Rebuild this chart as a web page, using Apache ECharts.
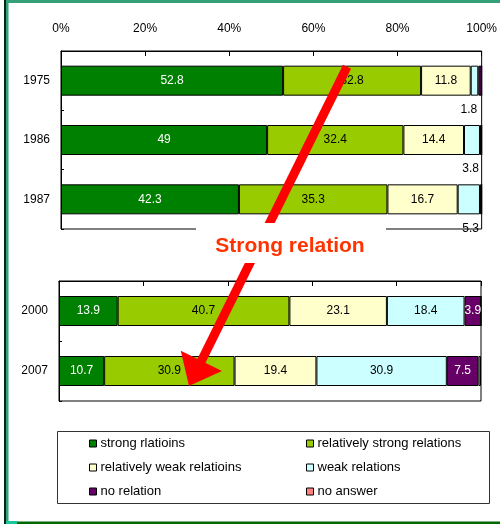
<!DOCTYPE html>
<html><head><meta charset="utf-8">
<script src="https://cdn.jsdelivr.net/npm/echarts@6/dist/echarts.min.js"></script>
<style>html,body{margin:0;padding:0;background:#fff}#c{width:500px;height:524px}</style>
</head><body><div id="c"></div>
<script>
// ---- data ----
const seriesNames = ['strong rlatioins','relatively strong relations','relatively weak relatioins','weak relations','no relation','no answer'];
const topYears = ['1975','1986','1987'];
const bottomYears = ['2000','2007'];
const tickLabels = ['0%','20%','40%','60%','80%','100%'];
// top panel (1975, 1986, 1987)
const strongTop    = [52.8, 49, 42.3];
const relStrongTop = [32.8, 32.4, 35.3];
const relWeakTop   = [11.8, 14.4, 16.7];
const weakTop      = [1.8, 3.8, 5.3];
const noRelTop     = [0.8, 0.4, 0.4];
const noAnsTop     = [0, 0, 0];
// bottom panel (2000, 2007)
const strongBot    = [13.9, 10.7];
const relStrongBot = [40.7, 30.9];
const relWeakBot   = [23.1, 19.4];
const weakBot      = [18.4, 30.9];
const noRelBot     = [3.9, 7.5];
const noAnsBot     = [0, 0.6];
const annotation = 'Strong relation';

// ---- styles ----
const colors = ['#008000','#99cc00','#ffffcc','#ccffff','#660066','#ff8080'];
const labelColors = ['#fff','#000','#000','#000','#fff','#000'];
const FONT = "'Liberation Sans', Arial, sans-serif";

const topData = [strongTop, relStrongTop, relWeakTop, weakTop, noRelTop, noAnsTop];
const botData = [strongBot, relStrongBot, relWeakBot, weakBot, noRelBot, noAnsBot];

function makeSeries(dataArr, gridIdx) {
  return dataArr.map((vals, i) => {
    let label = {
      show: true, position: 'inside', color: labelColors[i], fontSize: 12, fontFamily: FONT,
      formatter: p => (p.value >= 1 ? String(p.value) : '')
    };
    if (gridIdx === 0 && i === 3) {
      label = Object.assign({}, label, {position: ['100%','100%'], align: 'right', verticalAlign: 'top', offset: [-1, 8], color: '#000'});
    }
    return {
      name: seriesNames[i], type: 'bar', stack: 'g' + gridIdx,
      xAxisIndex: gridIdx, yAxisIndex: gridIdx,
      barWidth: 30,
      itemStyle: {color: colors[i], borderColor: '#000', borderWidth: 1},
      label: label,
      emphasis: {disabled: true},
      data: vals
    };
  });
}

const xAxisBase = {
  type: 'value', min: 0, max: 100, interval: 20, position: 'top',
  axisLine: {show: true, lineStyle: {color: '#000'}},
  axisTick: {show: true, inside: true, length: 5, lineStyle: {color: '#000'}},
  splitLine: {show: false}
};
const yAxisBase = {
  type: 'category', inverse: true,
  axisLine: {show: true, lineStyle: {color: '#000'}},
  axisTick: {show: true, inside: true, length: 3, lineStyle: {color: '#000'}},
  axisLabel: {color: '#000', fontSize: 12, fontFamily: FONT, margin: 11}
};

const chart = echarts.init(document.getElementById('c'), null, {renderer: 'canvas'});
const legendCommon = {
  orient: 'vertical', padding: 0, itemWidth: 7, itemHeight: 7, itemGap: 11, icon: 'rect',
  selectedMode: false,
  textStyle: {color: '#000', fontSize: 13, fontFamily: FONT, padding: [0,0,0,-1]},
  itemStyle: {borderColor: '#000', borderWidth: 1}
};
chart.setOption({
  animation: false,
  backgroundColor: '#fff',
  grid: [
    {left: 61, right: 18, top: 51, height: 178, show: true, borderColor: '#000', borderWidth: 1},
    {left: 59, right: 19, top: 281, height: 120, show: true, borderColor: '#000', borderWidth: 1}
  ],
  xAxis: [
    Object.assign({}, xAxisBase, {gridIndex: 0,
      axisLabel: {color: '#000', fontSize: 12, fontFamily: FONT, margin: 16,
        formatter: v => tickLabels[Math.round(v / 20)]}}),
    Object.assign({}, xAxisBase, {gridIndex: 1, axisLabel: {show: false}})
  ],
  yAxis: [
    Object.assign({}, yAxisBase, {gridIndex: 0, data: topYears}),
    Object.assign({}, yAxisBase, {gridIndex: 1, data: bottomYears})
  ],
  legend: [
    Object.assign({}, legendCommon, {left: 89, top: 437, data: [seriesNames[0], seriesNames[2], seriesNames[4]]}),
    Object.assign({}, legendCommon, {left: 306, top: 437, data: [seriesNames[1], seriesNames[3], seriesNames[5]]})
  ],
  series: makeSeries(topData, 0).concat(makeSeries(botData, 1))
});

// ---- annotation graphics (arrow anchored to the axes) ----
const p0 = chart.convertToPixel({gridIndex: 0}, [68, 0]);
const p1 = chart.convertToPixel({gridIndex: 1}, [30.8, 1]);
const start = [p0[0], p0[1] - 14];
const tip = [p1[0], p1[1] + 15];
const dx = tip[0] - start[0], dy = tip[1] - start[1];
const len = Math.sqrt(dx * dx + dy * dy);
const ux = dx / len, uy = dy / len;
const headLen = 28, headHalf = 23;
const base = [tip[0] - ux * headLen, tip[1] - uy * headLen];
const px = -uy, py = ux;

chart.setOption({
  graphic: [
    // outer frame
    {type: 'rect', z: 50, silent: true, shape: {x: 4, y: 0, width: 2, height: 524}, style: {fill: '#06251a'}},
    {type: 'rect', z: 50, silent: true, shape: {x: 6, y: 0, width: 2.5, height: 524}, style: {fill: '#33a077'}},
    {type: 'rect', z: 50, silent: true, shape: {x: 6, y: 0, width: 494, height: 3}, style: {fill: '#33a077'}},
    {type: 'rect', z: 50, silent: true, shape: {x: 6, y: 521, width: 11, height: 3}, style: {fill: '#19c79c'}},
    {type: 'rect', z: 50, silent: true, shape: {x: 17, y: 521.5, width: 483, height: 3}, style: {fill: '#006600'}},
    // legend box
    {type: 'rect', z: 50, silent: true, shape: {x: 57.5, y: 431.5, width: 432, height: 72}, style: {fill: 'none', stroke: '#333', lineWidth: 1}},
    // arrow
    {type: 'line', z: 60, silent: true, shape: {x1: start[0], y1: start[1], x2: base[0] + ux * 2, y2: base[1] + uy * 2},
      style: {stroke: '#ff0000', lineWidth: 9}},
    {type: 'polygon', z: 60, silent: true, shape: {points: [tip,
      [base[0] + px * headHalf, base[1] + py * headHalf],
      [base[0] - px * headHalf, base[1] - py * headHalf]]}, style: {fill: '#ff0000'}},
    // text box
    {type: 'rect', z: 70, silent: true, shape: {x: 196, y: 223, width: 190, height: 40}, style: {fill: '#fff'}},
    {type: 'text', z: 71, silent: true, x: 290, y: 246,
      style: {text: annotation, fill: '#ff3300', font: "bold 21px " + FONT, textAlign: 'center', textVerticalAlign: 'middle'}}
  ]
});
</script>
</body></html>
